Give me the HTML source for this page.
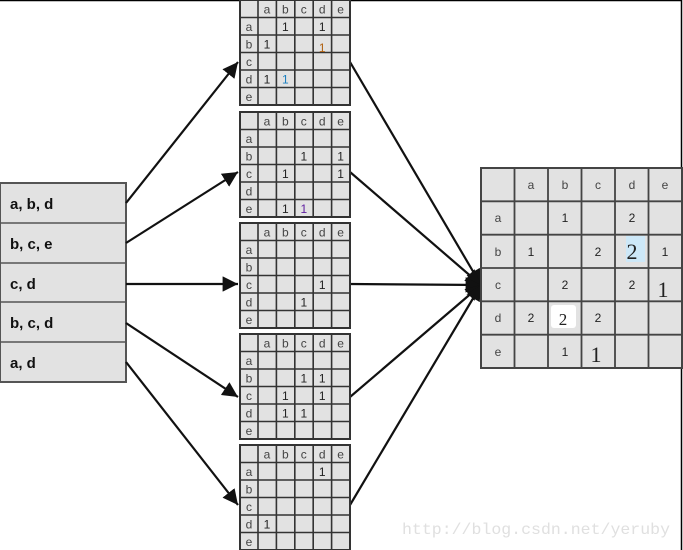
<!DOCTYPE html>
<html><head><meta charset="utf-8"><style>
html,body{margin:0;padding:0;background:#fff;}
svg{display:block;}
.h{font-family:"Liberation Sans",sans-serif;font-size:12px;fill:#444;text-anchor:middle;}
.v{font-family:"Liberation Sans",sans-serif;font-size:12px;fill:#222;text-anchor:middle;}
.H{font-family:"Liberation Sans",sans-serif;font-size:12px;fill:#444;text-anchor:middle;}
.S{font-family:"Liberation Serif",serif;font-size:22px;fill:#222;text-anchor:middle;}
.L{font-family:"Liberation Sans",sans-serif;font-size:15px;font-weight:bold;fill:#111;}
</style></head><body>
<svg width="683" height="550" viewBox="0 0 683 550" xmlns="http://www.w3.org/2000/svg">
<defs>
<g id="g">
<rect x="0" y="0" width="110" height="105" fill="#e2e2e2" stroke="#333" stroke-width="2"/>
<path d="M18 0V105M36.4 0V105M54.8 0V105M73.2 0V105M91.6 0V105M0 17.5H110M0 35H110M0 52.5H110M0 70H110M0 87.5H110" stroke="#333" stroke-width="1.6" fill="none"/>
<g class="h"><text x="27" y="13.5">a</text><text x="45.4" y="13.5">b</text><text x="63.8" y="13.5">c</text><text x="82.2" y="13.5">d</text><text x="100.6" y="13.5">e</text>
<text x="9" y="31">a</text><text x="9" y="48.5">b</text><text x="9" y="66">c</text><text x="9" y="83.5">d</text><text x="9" y="101">e</text></g>
</g>
<marker id="ar" viewBox="0 0 10 10" refX="10" refY="5" markerWidth="7" markerHeight="7" orient="auto"><path d="M0 0L10 5L0 10z" fill="#111"/></marker>
</defs>
<path d="M0 0.5H681.5V550" stroke="#000" stroke-width="1.5" fill="none"/>

<rect x="0" y="183" width="126" height="199" fill="#e2e2e2" stroke="#555" stroke-width="2"/>
<path d="M0 223H126M0 263H126M0 302H126M0 342H126" stroke="#555" stroke-width="1.5"/>
<text class="L" x="10" y="209">a, b, d</text>
<text class="L" x="10" y="249">b, c, e</text>
<text class="L" x="10" y="289">c, d</text>
<text class="L" x="10" y="328">b, c, d</text>
<text class="L" x="10" y="368">a, d</text>

<g stroke="#111" stroke-width="2.2" fill="none" marker-end="url(#ar)">
<line x1="126" y1="203" x2="238" y2="62"/>
<line x1="126" y1="243" x2="238" y2="172"/>
<line x1="126" y1="284" x2="238" y2="284"/>
<line x1="126" y1="323" x2="238" y2="397"/>
<line x1="126" y1="362" x2="238" y2="505"/>
<line x1="350" y1="62" x2="481" y2="285"/>
<line x1="350" y1="172" x2="481" y2="285"/>
<line x1="350" y1="284" x2="481" y2="285"/>
<line x1="350" y1="397" x2="481" y2="285"/>
<line x1="350" y1="505" x2="481" y2="285"/>
</g>

<g transform="translate(240,0)"><use href="#g"/>
<g class="v"><text x="45.4" y="31">1</text><text x="82.2" y="31">1</text><text x="27" y="48.5">1</text><text x="82.2" y="52" fill="#b06010">1</text><text x="27" y="83.5">1</text><text x="45.4" y="83.5" fill="#1a7fc0">1</text></g></g>
<g transform="translate(240,112)"><use href="#g"/>
<g class="v"><text x="63.8" y="48.5">1</text><text x="100.6" y="48.5">1</text><text x="45.4" y="66">1</text><text x="100.6" y="66">1</text><text x="45.4" y="101">1</text><text x="63.8" y="101" fill="#6020a0">1</text></g></g>
<g transform="translate(240,223)"><use href="#g"/>
<g class="v"><text x="82.2" y="66">1</text><text x="63.8" y="83.5">1</text></g></g>
<g transform="translate(240,334)"><use href="#g"/>
<g class="v"><text x="63.8" y="48.5">1</text><text x="82.2" y="48.5">1</text><text x="45.4" y="66">1</text><text x="82.2" y="66">1</text><text x="45.4" y="83.5">1</text><text x="63.8" y="83.5">1</text></g></g>
<g transform="translate(240,445)"><use href="#g"/>
<g class="v"><text x="82.2" y="31">1</text><text x="27" y="83.5">1</text></g></g>

<rect x="481" y="168" width="201" height="200" fill="#e2e2e2" stroke="#444" stroke-width="2"/>
<rect x="626" y="236" width="19" height="26" fill="#cde8f8"/>
<rect x="551" y="305" width="25" height="23" rx="3" fill="#fff"/>
<path d="M514.5 168V368M548 168V368M581.5 168V368M615 168V368M648.5 168V368M481 201.3H682M481 234.7H682M481 268H682M481 301.3H682M481 334.7H682" stroke="#444" stroke-width="1.8" fill="none"/>
<g class="H"><text x="531" y="189">a</text><text x="565" y="189">b</text><text x="598" y="189">c</text><text x="632" y="189">d</text><text x="665" y="189">e</text>
<text x="498" y="222">a</text><text x="498" y="256">b</text><text x="498" y="289">c</text><text x="498" y="322">d</text><text x="498" y="356">e</text></g>
<g class="H" style="fill:#222">
<text x="565" y="222">1</text><text x="632" y="222">2</text>
<text x="531" y="256">1</text><text x="598" y="256">2</text><text x="665" y="256">1</text>
<text x="565" y="289">2</text><text x="632" y="289">2</text>
<text x="531" y="322">2</text><text x="598" y="322">2</text>
<text x="565" y="356">1</text></g>
<text class="S" x="632" y="259">2</text>
<text class="S" x="663" y="297">1</text>
<text class="S" x="563" y="325" style="font-size:17px">2</text>
<text class="S" x="596" y="362">1</text>

<text x="402" y="534" textLength="268" lengthAdjust="spacingAndGlyphs" style="font-family:'Liberation Mono',monospace;font-size:16px;fill:#e0e0e0">http://blog.csdn.net/yeruby</text>
</svg>
</body></html>
